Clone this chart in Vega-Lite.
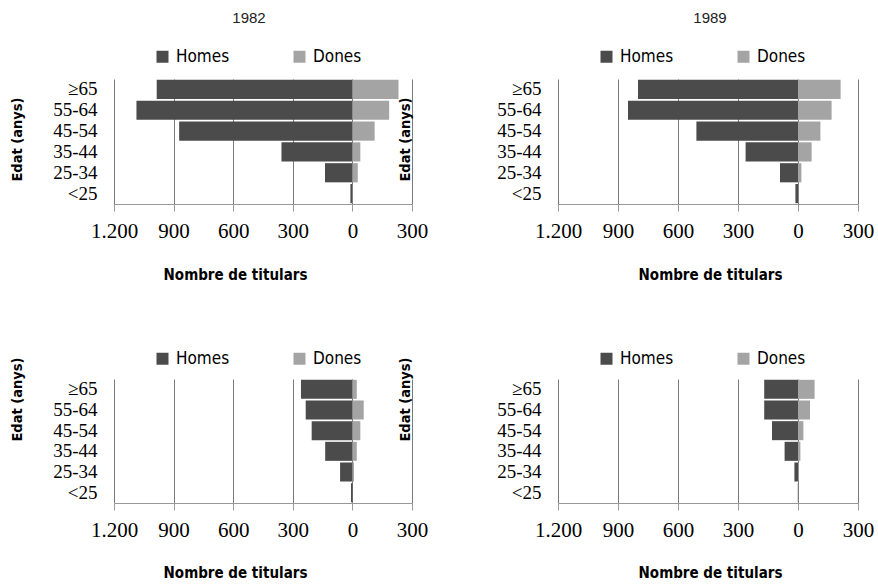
{
  "$schema": "https://vega.github.io/schema/vega-lite/v6.json",
  "background": "white",
  "padding": {"left": 8, "top": 11, "right": 0, "bottom": 0},
  "datasets": {
    "p1982a": [
      {"edat": "≥65", "sexe": "Homes", "valor": -985}, {"edat": "≥65", "sexe": "Dones", "valor": 232},
      {"edat": "55-64", "sexe": "Homes", "valor": -1087}, {"edat": "55-64", "sexe": "Dones", "valor": 185},
      {"edat": "45-54", "sexe": "Homes", "valor": -872}, {"edat": "45-54", "sexe": "Dones", "valor": 112},
      {"edat": "35-44", "sexe": "Homes", "valor": -357}, {"edat": "35-44", "sexe": "Dones", "valor": 40},
      {"edat": "25-34", "sexe": "Homes", "valor": -138}, {"edat": "25-34", "sexe": "Dones", "valor": 27},
      {"edat": "<25", "sexe": "Homes", "valor": -10}, {"edat": "<25", "sexe": "Dones", "valor": 2}
    ],
    "p1989a": [
      {"edat": "≥65", "sexe": "Homes", "valor": -800}, {"edat": "≥65", "sexe": "Dones", "valor": 213},
      {"edat": "55-64", "sexe": "Homes", "valor": -850}, {"edat": "55-64", "sexe": "Dones", "valor": 168},
      {"edat": "45-54", "sexe": "Homes", "valor": -508}, {"edat": "45-54", "sexe": "Dones", "valor": 112},
      {"edat": "35-44", "sexe": "Homes", "valor": -262}, {"edat": "35-44", "sexe": "Dones", "valor": 68},
      {"edat": "25-34", "sexe": "Homes", "valor": -90}, {"edat": "25-34", "sexe": "Dones", "valor": 17},
      {"edat": "<25", "sexe": "Homes", "valor": -13}, {"edat": "<25", "sexe": "Dones", "valor": 1}
    ],
    "p1982b": [
      {"edat": "≥65", "sexe": "Homes", "valor": -259}, {"edat": "≥65", "sexe": "Dones", "valor": 22},
      {"edat": "55-64", "sexe": "Homes", "valor": -235}, {"edat": "55-64", "sexe": "Dones", "valor": 57},
      {"edat": "45-54", "sexe": "Homes", "valor": -205}, {"edat": "45-54", "sexe": "Dones", "valor": 40},
      {"edat": "35-44", "sexe": "Homes", "valor": -137}, {"edat": "35-44", "sexe": "Dones", "valor": 22},
      {"edat": "25-34", "sexe": "Homes", "valor": -62}, {"edat": "25-34", "sexe": "Dones", "valor": 8},
      {"edat": "<25", "sexe": "Homes", "valor": -7}, {"edat": "<25", "sexe": "Dones", "valor": 0}
    ],
    "p1989b": [
      {"edat": "≥65", "sexe": "Homes", "valor": -169}, {"edat": "≥65", "sexe": "Dones", "valor": 83},
      {"edat": "55-64", "sexe": "Homes", "valor": -169}, {"edat": "55-64", "sexe": "Dones", "valor": 60},
      {"edat": "45-54", "sexe": "Homes", "valor": -130}, {"edat": "45-54", "sexe": "Dones", "valor": 27},
      {"edat": "35-44", "sexe": "Homes", "valor": -67}, {"edat": "35-44", "sexe": "Dones", "valor": 12},
      {"edat": "25-34", "sexe": "Homes", "valor": -18}, {"edat": "25-34", "sexe": "Dones", "valor": 3},
      {"edat": "<25", "sexe": "Homes", "valor": -1}, {"edat": "<25", "sexe": "Dones", "valor": 0}
    ]
  },
  "columns": 2,
  "spacing": {"row": 175, "column": 146},
  "bounds": "flush",
  "resolve": {"scale": {"color": "independent", "x": "independent", "y": "independent"}, "legend": {"color": "independent"}},
  "concat": [
    {
      "data": {"name": "p1982a"},
      "width": 298, "height": 125,
      "title": {"text": "1982", "font": "Liberation Sans", "fontSize": 15, "fontWeight": "normal", "color": "#222", "offset": 22, "dx": -14, "anchor": "middle"},
      "mark": {"type": "bar"},
      "encoding": {
        "y": {"field": "edat", "type": "nominal", "sort": ["≥65", "55-64", "45-54", "35-44", "25-34", "<25"], "scale": {"paddingInner": 0.08, "paddingOuter": 0.04},
          "axis": {"title": "Edat (anys)", "titleX": -90, "titleY": 60, "labelFont": "Liberation Serif", "labelFontSize": 19, "labelPadding": 17}},
        "x": {"field": "valor", "type": "quantitative", "stack": null, "scale": {"domain": [-1200, 300], "nice": false, "zero": false},
          "axis": {"values": [-1200, -900, -600, -300, 0, 300], "title": "Nombre de titulars", "titleX": 121, "titleY": 75}},
        "color": {"field": "sexe", "type": "nominal", "scale": {"domain": ["Homes", "Dones"], "range": ["#4b4b4b", "#a4a4a4"]},
          "legend": {"orient": "none", "legendX": 40, "legendY": -31}}
      }
    },
    {
      "data": {"name": "p1989a"},
      "width": 300, "height": 125,
      "title": {"text": "1989", "font": "Liberation Sans", "fontSize": 15, "fontWeight": "normal", "color": "#222", "offset": 22, "dx": 2, "anchor": "middle"},
      "mark": {"type": "bar"},
      "encoding": {
        "y": {"field": "edat", "type": "nominal", "sort": ["≥65", "55-64", "45-54", "35-44", "25-34", "<25"], "scale": {"paddingInner": 0.08, "paddingOuter": 0.04},
          "axis": {"title": "Edat (anys)", "titleX": -146, "titleY": 60, "labelFont": "Liberation Serif", "labelFontSize": 19, "labelPadding": 17}},
        "x": {"field": "valor", "type": "quantitative", "stack": null, "scale": {"domain": [-1200, 300], "nice": false, "zero": false},
          "axis": {"values": [-1200, -900, -600, -300, 0, 300], "title": "Nombre de titulars", "titleX": 152, "titleY": 75}},
        "color": {"field": "sexe", "type": "nominal", "scale": {"domain": ["Homes", "Dones"], "range": ["#4b4b4b", "#a4a4a4"]},
          "legend": {"orient": "none", "legendX": 40, "legendY": -31}}
      }
    },
    {
      "data": {"name": "p1982b"},
      "width": 298, "height": 124,
      "mark": {"type": "bar"},
      "encoding": {
        "y": {"field": "edat", "type": "nominal", "sort": ["≥65", "55-64", "45-54", "35-44", "25-34", "<25"], "scale": {"paddingInner": 0.08, "paddingOuter": 0.04},
          "axis": {"title": "Edat (anys)", "titleX": -90, "titleY": 20, "labelFont": "Liberation Serif", "labelFontSize": 19, "labelPadding": 17}},
        "x": {"field": "valor", "type": "quantitative", "stack": null, "scale": {"domain": [-1200, 300], "nice": false, "zero": false},
          "axis": {"values": [-1200, -900, -600, -300, 0, 300], "title": "Nombre de titulars", "titleX": 121, "titleY": 74}},
        "color": {"field": "sexe", "type": "nominal", "scale": {"domain": ["Homes", "Dones"], "range": ["#4b4b4b", "#a4a4a4"]},
          "legend": {"orient": "none", "legendX": 40, "legendY": -29}}
      }
    },
    {
      "data": {"name": "p1989b"},
      "width": 300, "height": 124,
      "mark": {"type": "bar"},
      "encoding": {
        "y": {"field": "edat", "type": "nominal", "sort": ["≥65", "55-64", "45-54", "35-44", "25-34", "<25"], "scale": {"paddingInner": 0.08, "paddingOuter": 0.04},
          "axis": {"title": "Edat (anys)", "titleX": -146, "titleY": 20, "labelFont": "Liberation Serif", "labelFontSize": 19, "labelPadding": 17}},
        "x": {"field": "valor", "type": "quantitative", "stack": null, "scale": {"domain": [-1200, 300], "nice": false, "zero": false},
          "axis": {"values": [-1200, -900, -600, -300, 0, 300], "title": "Nombre de titulars", "titleX": 152, "titleY": 74}},
        "color": {"field": "sexe", "type": "nominal", "scale": {"domain": ["Homes", "Dones"], "range": ["#4b4b4b", "#a4a4a4"]},
          "legend": {"orient": "none", "legendX": 40, "legendY": -29}}
      }
    }
  ],
  "config": {
    "view": {"stroke": null},
    "axisY": {"domain": false, "ticks": false, "grid": false, "labelColor": "#000",
      "titleFont": "DejaVu Sans Condensed", "titleFontSize": 14.5, "titleFontWeight": "bold", "titleColor": "#000"},
    "axisX": {"labelExpr": "replace(format(abs(datum.value), ','), ',', '.')",
      "grid": true, "gridColor": "#7a7a7a", "gridWidth": 1, "domainColor": "#999", "tickColor": "#999", "tickSize": 7,
      "labelFont": "Liberation Serif", "labelFontSize": 21, "labelPadding": 9, "labelColor": "#000", "labelFlush": false, "labelOverlap": false, "labelBound": false,
      "titleFont": "DejaVu Sans Condensed", "titleFontSize": 15, "titleFontWeight": "bold", "titleColor": "#000", "titleBaseline": "alphabetic"},
    "legend": {"direction": "horizontal", "title": null, "symbolType": "square", "symbolSize": 144, "symbolStrokeWidth": 0, "symbolOpacity": 1,
      "labelFont": "DejaVu Sans Condensed", "labelFontSize": 17, "labelOffset": 5, "columnPadding": 61, "labelColor": "#000", "padding": 0}
  }
}
